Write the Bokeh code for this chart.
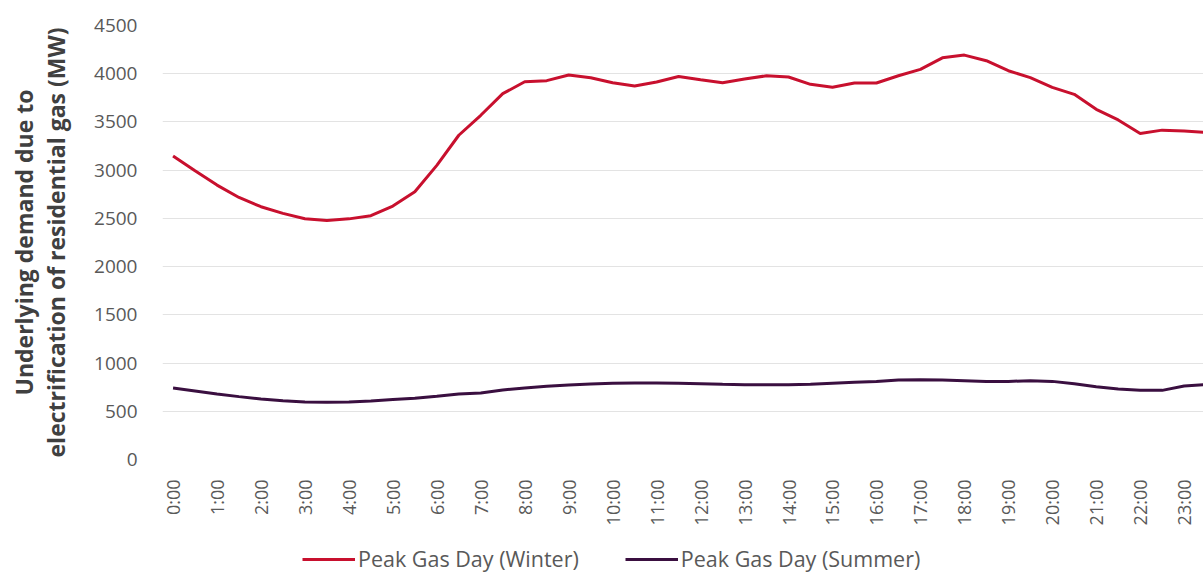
from bokeh.plotting import figure
from bokeh.layouts import column
from bokeh.models import Range1d, FixedTicker, Legend, LegendItem
from bokeh.embed import file_html
from bokeh.resources import INLINE

# half-hourly time labels
times = [f"{h}:{m:02d}" for h in range(24) for m in (0, 30)]

winter = [3148, 2993, 2845, 2717, 2621, 2552, 2497, 2479, 2495, 2528,
          2628, 2776, 3050, 3362, 3569, 3793, 3917, 3928, 3986, 3959,
          3907, 3872, 3914, 3972, 3938, 3907, 3945, 3979, 3966, 3890,
          3859, 3904, 3904, 3979, 4045, 4165, 4193, 4135, 4031, 3959,
          3859, 3786, 3631, 3521, 3380, 3415, 3405, 3390]

summer = [741, 710, 679, 652, 628, 610, 597, 593, 597, 607,
          621, 634, 655, 679, 690, 721, 741, 759, 772, 783,
          790, 793, 793, 790, 786, 779, 776, 776, 776, 779,
          790, 800, 810, 824, 828, 824, 817, 810, 810, 817,
          810, 786, 755, 731, 717, 717, 762, 776]

y_ticks = [0, 500, 1000, 1500, 2000, 2500, 3000, 3500, 4000, 4500]

series_names = ["Peak Gas Day (Winter)", "Peak Gas Day (Summer)"]
series_colors = ["#C8102E", "#3A0F40"]

FONT = "Open Sans"
GREY = "#595959"

x = list(range(len(times)))

p = figure(width=1203, height=545, output_backend="svg", toolbar_location=None,
           x_range=Range1d(-0.48, 46.88), y_range=Range1d(0, 4500),
           min_border_left=162, min_border_right=0, min_border_top=25,
           min_border_bottom=86)
p.outline_line_color = None
p.background_fill_color = "white"
p.border_fill_color = "white"

p.line(x, winter, line_color=series_colors[0], line_width=3)
p.line(x, summer, line_color=series_colors[1], line_width=3)

# x axis
p.xaxis.ticker = FixedTicker(ticks=[i for i in x if i % 2 == 0])
p.xaxis.major_label_overrides = {i: times[i] for i in x if i % 2 == 0}
p.xaxis.major_label_orientation = 1.5707963
p.xaxis.major_label_text_font = FONT
p.xaxis.major_label_text_font_size = "18px"
p.xaxis.major_label_text_color = GREY
p.xaxis.major_label_standoff = 14
p.xaxis.axis_line_color = None
p.xaxis.major_tick_line_color = None
p.xaxis.minor_tick_line_color = None

# y axis
p.yaxis.ticker = FixedTicker(ticks=y_ticks)
p.yaxis.major_label_text_font = FONT
p.yaxis.major_label_text_font_size = "19px"
p.yaxis.major_label_text_color = GREY
p.yaxis.major_label_standoff = 19
p.yaxis.axis_line_color = None
p.yaxis.major_tick_line_color = None
p.yaxis.minor_tick_line_color = None
p.yaxis.axis_label = "Underlying demand due to\nelectrification of residential gas (MW)"
p.yaxis.axis_label_text_font = FONT
p.yaxis.axis_label_text_font_style = "bold"
p.yaxis.axis_label_text_font_size = "23px"
p.yaxis.axis_label_text_line_height = 1.0
p.yaxis.axis_label_text_color = "#404040"
p.yaxis.axis_label_standoff = 19

p.xgrid.grid_line_color = None
p.ygrid.grid_line_color = "#E3E3E3"
p.ygrid.grid_line_width = 1

# legend strip below the chart (its lines fall outside its own ranges)
lg = figure(width=1203, height=30, output_backend="svg", toolbar_location=None,
            x_range=Range1d(0, 1), y_range=Range1d(0, 1),
            x_axis_type=None, y_axis_type=None,
            min_border_left=0, min_border_right=0, min_border_top=0,
            min_border_bottom=0)
lg.outline_line_color = None
lg.xgrid.visible = False
lg.ygrid.visible = False
k1 = lg.line(x, winter, line_color=series_colors[0], line_width=3)
k2 = lg.line(x, summer, line_color=series_colors[1], line_width=3)

legend = Legend(items=[LegendItem(label=series_names[0], renderers=[k1]),
                       LegendItem(label=series_names[1], renderers=[k2])],
                orientation="horizontal", location=(140, 2))
legend.glyph_width = 53
legend.glyph_height = 20
legend.label_standoff = 3
legend.spacing = 46
legend.padding = 0
legend.margin = 0
legend.border_line_color = None
legend.background_fill_alpha = 0
legend.label_text_font = FONT
legend.label_text_font_size = "21.5px"
legend.label_text_color = GREY
lg.add_layout(legend)

open("out.html", "w").write(file_html(column(p, lg, spacing=0), INLINE))
